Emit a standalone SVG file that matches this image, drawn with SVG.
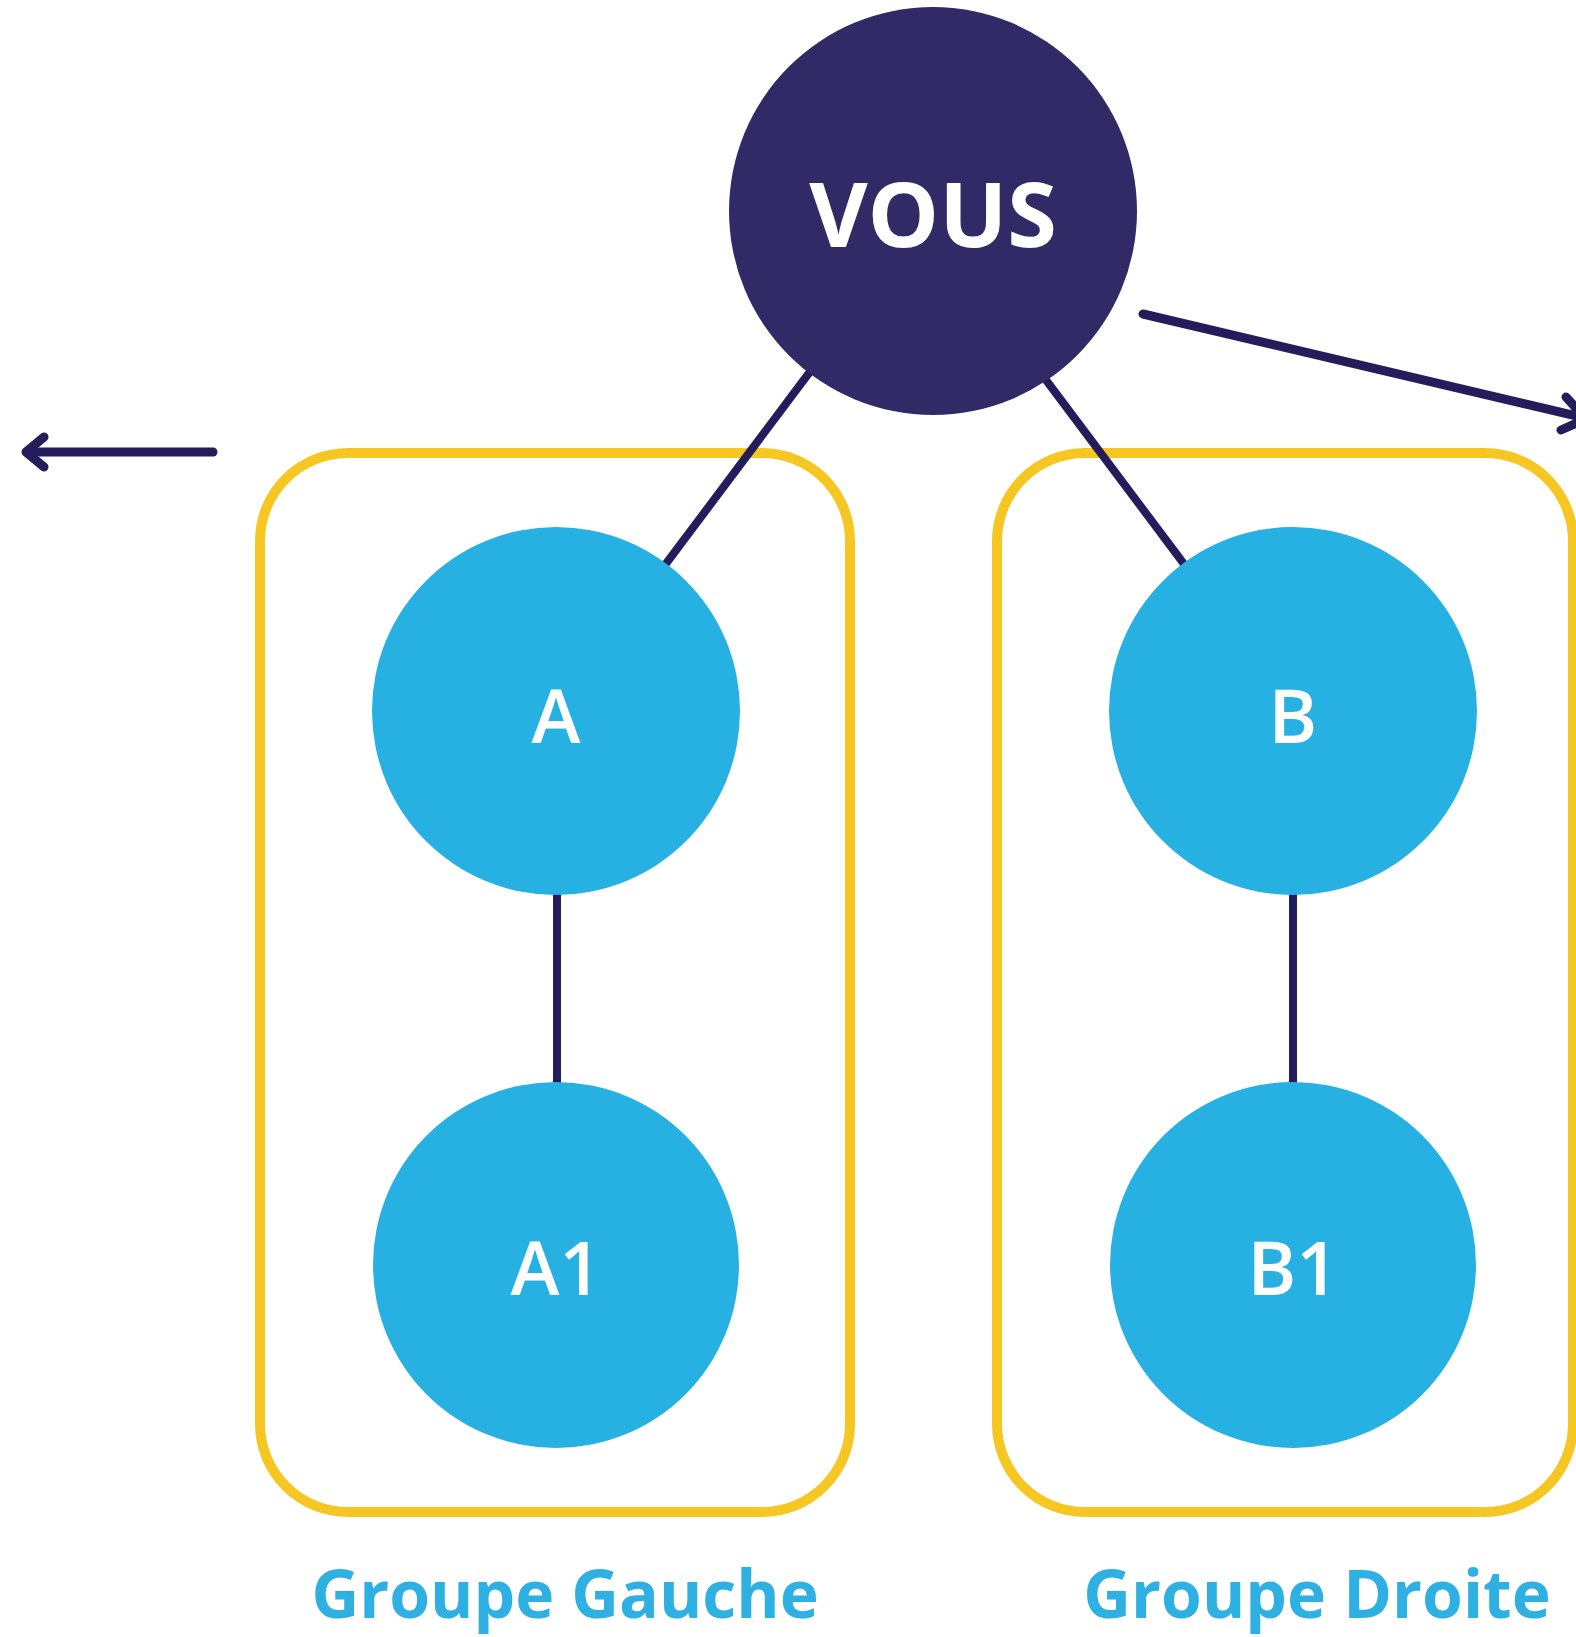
<svg xmlns="http://www.w3.org/2000/svg" width="1576" height="1637" viewBox="0 0 1576 1637">
  <style>
    .box { fill: none; stroke: #f6c623; stroke-width: 10; }
    .lbl { font-family: "Open Sans", "Liberation Sans", sans-serif; font-weight: 700; font-size: 66px; fill: #2eb0e2; text-anchor: middle; }
    .conn { stroke: #231d5c; stroke-width: 8; fill: none; }
    .arrow { stroke: #231d5c; stroke-width: 9; fill: none; stroke-linejoin: round; stroke-linecap: round; }
    .leaf { fill: #27b1e3; }
    .leaftxt { font-family: "Open Sans", "Liberation Sans", sans-serif; font-weight: 600; font-size: 74px; fill: #ffffff; text-anchor: middle; }
    .root { fill: #302b67; }
    .roottxt { font-family: "Open Sans", "Liberation Sans", sans-serif; font-weight: 700; font-size: 90px; fill: #ffffff; text-anchor: middle; }
  </style>
  <rect width="1576" height="1637" fill="#ffffff"/>
  <g id="groupe-gauche">
    <rect class="box" x="260" y="453" width="590" height="1059" rx="88" ry="88"/>
    <text class="lbl" x="565" y="1618">Groupe Gauche</text>
  </g>
  <g id="groupe-droite">
    <rect class="box" x="997" y="453" width="576" height="1059" rx="88" ry="88"/>
    <text class="lbl" x="1317" y="1618">Groupe Droite</text>
  </g>
  <g id="connectors">
    <line class="conn" x1="824" y1="353" x2="650" y2="585"/>
    <line class="conn" x1="1040" y1="372" x2="1190" y2="572"/>
    <line class="conn" x1="557" y1="880" x2="557" y2="1095"/>
    <line class="conn" x1="1293" y1="880" x2="1293" y2="1095"/>
    <line class="arrow" x1="213" y1="452" x2="27" y2="452" stroke-linecap="butt"/>
    <polyline class="arrow" points="44,437 26,452 44,467"/>
    <line class="arrow" x1="1143" y1="314" x2="1585" y2="418" stroke-linecap="butt"/>
    <polyline class="arrow" points="1566,397 1586,419 1561,430"/>
  </g>
  <g id="vous">
    <circle class="root" cx="933" cy="211" r="204"/>
    <text class="roottxt" x="933" y="247">VOUS</text>
  </g>
  <g id="node-a">
    <circle class="leaf" cx="556" cy="711" r="184"/>
    <text class="leaftxt" x="556" y="743">A</text>
  </g>
  <g id="node-a1">
    <circle class="leaf" cx="556" cy="1265" r="183"/>
    <text class="leaftxt" x="556" y="1295">A1</text>
  </g>
  <g id="node-b">
    <circle class="leaf" cx="1293" cy="711" r="184"/>
    <text class="leaftxt" x="1293" y="743">B</text>
  </g>
  <g id="node-b1">
    <circle class="leaf" cx="1293" cy="1265" r="183"/>
    <text class="leaftxt" x="1293" y="1295">B1</text>
  </g>
</svg>
